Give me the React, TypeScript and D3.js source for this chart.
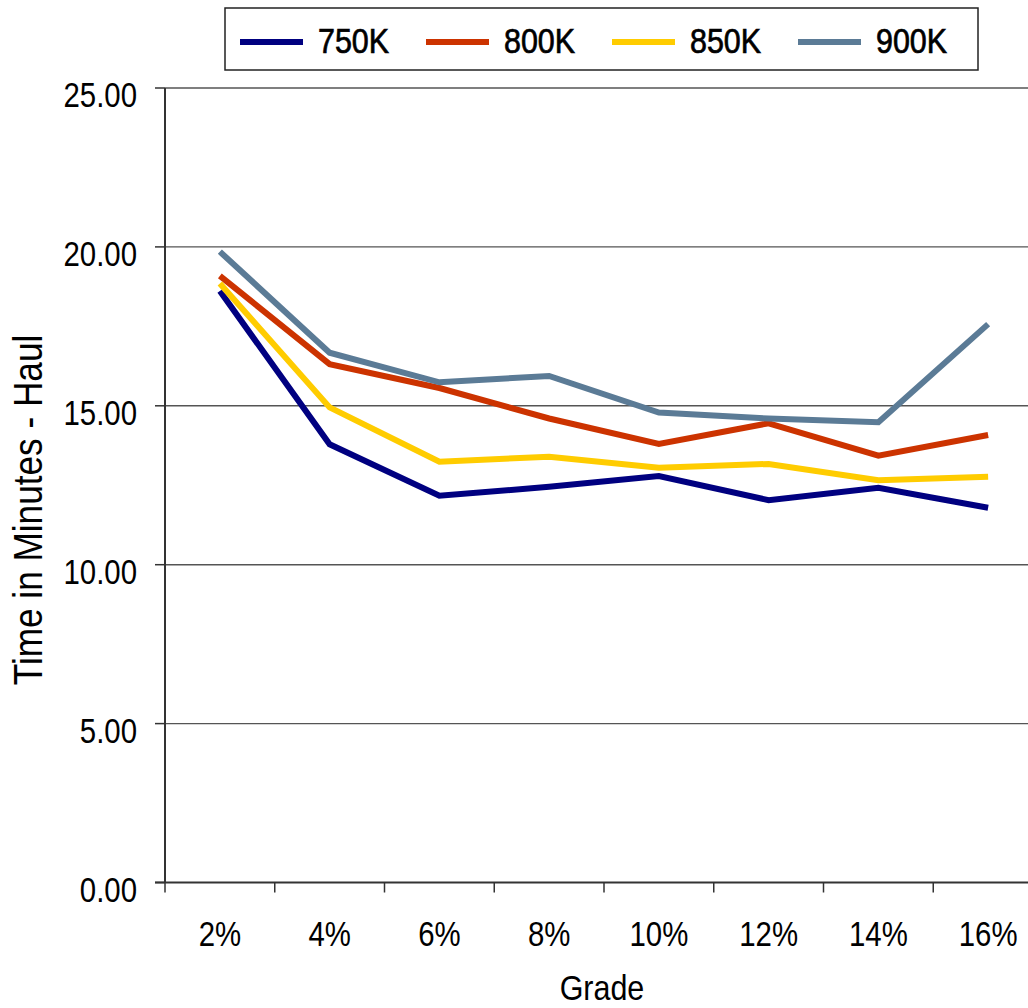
import React from "react";
import * as d3 from "d3";

const categories = ["2%", "4%", "6%", "8%", "10%", "12%", "14%", "16%"];
const seriesNames = ["750K", "800K", "850K", "900K"];
const values750 = [18.61, 13.79, 12.17, 12.45, 12.79, 12.03, 12.42, 11.79];
const values800 = [19.09, 16.31, 15.56, 14.60, 13.80, 14.45, 13.43, 14.08];
const values850 = [18.85, 14.95, 13.24, 13.40, 13.05, 13.17, 12.66, 12.77];
const values900 = [19.85, 16.67, 15.74, 15.94, 14.79, 14.60, 14.48, 17.57];
const seriesColors = ["#000080", "#CC3300", "#FFCC00", "#5B7B96"];
const yTicks = [0, 5, 10, 15, 20, 25];

const W = 1028;
const H = 1008;
const FONT = "'Liberation Sans', Arial, sans-serif";
const NARROW = 0.84;

function NText({
  x,
  y,
  anchor,
  size,
  sx = NARROW,
  rotate = 0,
  bold = false,
  children,
}: {
  x: number;
  y: number;
  anchor: "start" | "middle" | "end";
  size: number;
  sx?: number;
  rotate?: number;
  bold?: boolean;
  children: React.ReactNode;
}) {
  return (
    <g transform={`translate(${x},${y}) rotate(${rotate}) scale(${sx},1)`}>
      <text
        x={0}
        y={0}
        textAnchor={anchor}
        fontFamily={FONT}
        fontSize={size}
        fill="#000"
        stroke={bold ? "#000" : "none"}
        strokeWidth={bold ? 0.7 : 0}
      >
        {children}
      </text>
    </g>
  );
}

export default function App() {
  const left = 165;
  const top = 88;
  const bottom = 882.5;
  const bandW = 109.75;
  const x = d3.scaleBand<string>().domain(categories).range([left, left + bandW * categories.length]).padding(0);
  const y = d3.scaleLinear().domain([0, 25]).range([bottom, top]);
  const allSeries = [values750, values800, values850, values900];
  const line = d3
    .line<number>()
    .x((_, i) => (x(categories[i]) as number) + x.bandwidth() / 2)
    .y((d) => y(d));

  const legendX = [240, 426, 612, 798];

  return (
    <svg width={W} height={H} style={{ position: "absolute", left: 0, top: 0, background: "#fff" }}>
      <rect x={0} y={0} width={W} height={H} fill="#fff" />
      {yTicks.filter((t) => t > 0).map((t) => (
        <line key={t} x1={left} x2={W} y1={y(t)} y2={y(t)} stroke="#555" strokeWidth={1.4} />
      ))}
      <line x1={left} x2={left} y1={top} y2={bottom} stroke="#333" strokeWidth={2} />
      {yTicks.map((t) => (
        <g key={t}>
          <line x1={left - 10} x2={left} y1={y(t)} y2={y(t)} stroke="#333" strokeWidth={1.5} />
          <NText x={137} y={y(t) + 19} anchor="end" size={35}>
            {t.toFixed(2)}
          </NText>
        </g>
      ))}
      <line x1={left - 10} x2={W} y1={bottom} y2={bottom} stroke="#333" strokeWidth={2} />
      {categories.map((c) => (
        <g key={c}>
          <line x1={x(c) as number} x2={x(c) as number} y1={bottom} y2={bottom + 10} stroke="#333" strokeWidth={1.5} />
          <NText x={(x(c) as number) + x.bandwidth() / 2} y={946} anchor="middle" size={35}>
            {c}
          </NText>
        </g>
      ))}
      <NText x={602} y={1000} anchor="middle" size={35} sx={0.87}>
        Grade
      </NText>
      <NText x={42} y={510} anchor="middle" size={40} sx={0.88} rotate={-90}>
        Time in Minutes - Haul
      </NText>
      {allSeries.map((vals, si) => (
        <path key={si} d={line(vals) as string} fill="none" stroke={seriesColors[si]} strokeWidth={6} strokeLinejoin="miter" />
      ))}
      <rect x={225} y={8} width={753} height={62} fill="#fff" stroke="#222" strokeWidth={1.5} />
      {seriesNames.map((n, i) => (
        <g key={n}>
          <line x1={legendX[i]} x2={legendX[i] + 63} y1={42} y2={42} stroke={seriesColors[i]} strokeWidth={6} />
          <NText x={legendX[i] + 78} y={53} anchor="start" size={35} sx={0.87} bold>
            {n}
          </NText>
        </g>
      ))}
    </svg>
  );
}
